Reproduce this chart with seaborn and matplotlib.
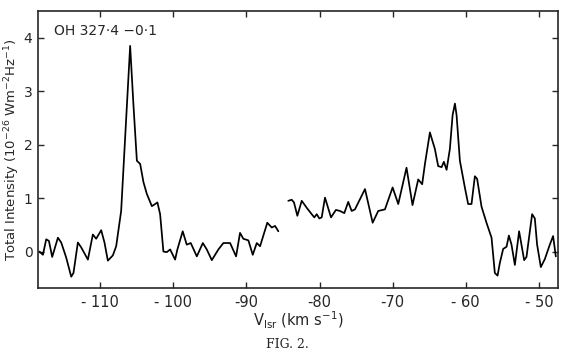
import pandas as pd
import matplotlib.pyplot as plt
import seaborn as sns

# Spectrum, two separate scans
v_left = [-118.3, -117.83, -117.38, -117.01, -116.56, -115.78, -115.33, -114.65,
          -113.96, -113.65, -113.05, -112.60, -111.68, -111.00, -110.55, -109.86,
          -109.41, -108.95, -108.26, -107.81, -107.13, -105.90, -105.45, -104.98,
          -104.53, -104.08, -103.62, -102.93, -102.48, -102.17, -101.80, -101.35,
          -100.88, -100.43, -99.75, -99.44, -98.71, -98.16, -97.61, -96.78,
          -95.96, -95.42, -94.73, -93.83, -93.15, -92.23, -91.41, -90.87,
          -90.42, -89.73, -89.13, -88.58, -88.13, -87.14, -86.53, -86.08, -85.63]
i_left = [0.00, -0.06, 0.23, 0.20, -0.10, 0.26, 0.17, -0.11,
          -0.47, -0.40, 0.17, 0.08, -0.15, 0.32, 0.24, 0.40,
          0.17, -0.17, -0.07, 0.10, 0.76, 3.85, 2.75, 1.70,
          1.64, 1.30, 1.08, 0.85, 0.89, 0.92, 0.70, 0.00,
          -0.01, 0.04, -0.15, 0.04, 0.38, 0.13, 0.16, -0.09,
          0.16, 0.04, -0.16, 0.04, 0.16, 0.16, -0.09, 0.35,
          0.24, 0.21, -0.06, 0.16, 0.10, 0.54, 0.45, 0.48, 0.38]

v_right = [-84.27, -83.80, -83.49, -83.03, -82.43, -81.75, -81.07, -80.71,
           -80.38, -80.03, -79.70, -79.25, -78.43, -77.75, -77.20, -76.61,
           -76.07, -75.60, -75.15, -73.78, -72.73, -71.97, -71.05, -70.00,
           -69.23, -68.10, -67.28, -66.50, -65.96, -65.58, -64.90, -64.22,
           -63.77, -63.30, -62.99, -62.62, -62.17, -61.80, -61.48, -61.25,
           -60.80, -60.12, -59.67, -59.21, -58.75, -58.44, -57.84, -57.16,
           -56.47, -56.02, -55.65, -55.33, -54.88, -54.42, -54.10, -53.74,
           -53.28, -52.70, -52.01, -51.69, -50.92, -50.55, -50.24, -49.73,
           -49.18, -48.50, -48.05, -47.68]
i_right = [0.95, 0.97, 0.92, 0.67, 0.95, 0.82, 0.70, 0.64,
           0.70, 0.62, 0.64, 1.01, 0.64, 0.78, 0.76, 0.72,
           0.93, 0.76, 0.79, 1.17, 0.54, 0.76, 0.79, 1.20,
           0.89, 1.57, 0.87, 1.35, 1.26, 1.64, 2.23, 1.92,
           1.60, 1.58, 1.68, 1.53, 1.92, 2.55, 2.77, 2.55,
           1.70, 1.20, 0.89, 0.89, 1.41, 1.36, 0.84, 0.54,
           0.26, -0.40, -0.45, -0.21, 0.05, 0.09, 0.30, 0.13,
           -0.25, 0.38, -0.16, -0.10, 0.70, 0.62, 0.13, -0.29,
           -0.14, 0.13, 0.29, -0.09]

x_ticks = [-110, -100, -90, -80, -70, -60, -50]
x_labels = ['- 110', '- 100', '-90', '-80', '-70', '- 60', '- 50']
y_ticks = [0, 1, 2, 3, 4]

df = pd.concat([
    pd.DataFrame({'v': v_left, 'I': i_left, 'scan': 'a'}),
    pd.DataFrame({'v': v_right, 'I': i_right, 'scan': 'b'}),
])

sns.set_style("ticks")
plt.rcParams['font.family'] = ['DejaVu Sans']

fig = plt.figure(figsize=(5.7, 3.59), dpi=100)
ax = fig.add_axes([0.0667, 0.198, 0.912, 0.771])

sns.lineplot(data=df, x='v', y='I', units='scan', estimator=None,
             color='black', linewidth=1.25, sort=False, ax=ax)

ax.set_xlim(-118.5, -47.4)
ax.set_ylim(-0.68, 4.5)
ax.set_xticks(x_ticks)
ax.set_xticklabels(x_labels)
ax.set_yticks(y_ticks)
ax.tick_params(axis='x', labelsize=10.5, pad=5)
ax.tick_params(axis='y', labelsize=10, pad=4)
ax.tick_params(direction='in', top=True, right=True, length=4, width=1)
for s in ax.spines.values():
    s.set_linewidth(1.2)

ax.set_xlabel(r'V$_{\rm lsr}$ (km s$^{-1}$)', fontsize=10.5, labelpad=0)
ax.set_ylabel(r'Total Intensity (10$^{-26}$ Wm$^{-2}$Hz$^{-1}$)', fontsize=9.5, labelpad=1)
ax.text(0.03, 0.93, 'OH 327·4 −0·1', transform=ax.transAxes, fontsize=10, va='center')

fig.text(0.505, 0.04, 'FIG. 2.', ha='center', va='center',
         fontsize=9, family='DejaVu Serif')

fig.savefig('out.png', dpi=100)
